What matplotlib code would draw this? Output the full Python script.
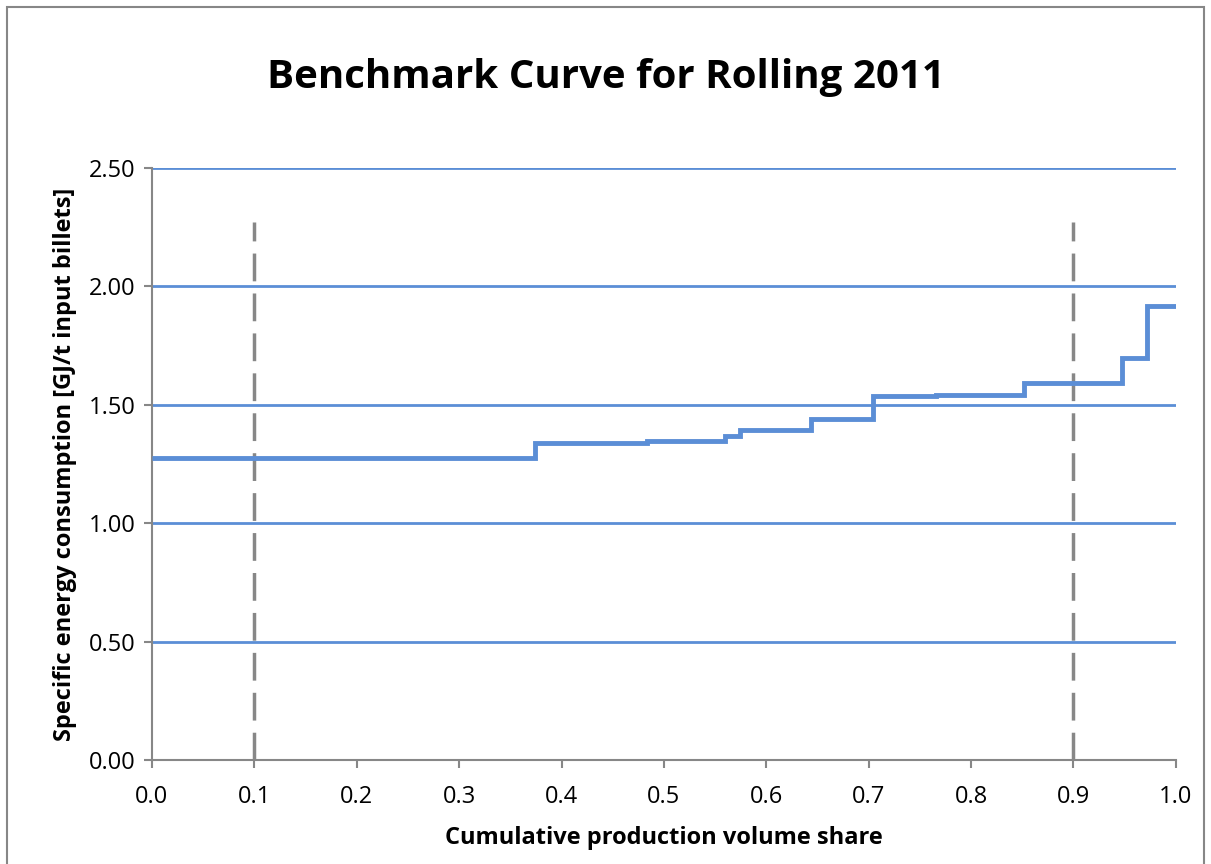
import matplotlib.pyplot as plt
from matplotlib.patches import Rectangle

# step edges (cumulative share) and specific energy of each plant
share_edges = [0.0, 0.374, 0.483, 0.560, 0.574, 0.644, 0.704, 0.766, 0.852, 0.947, 0.972, 1.0]
energy = [1.275, 1.339, 1.345, 1.368, 1.394, 1.440, 1.537, 1.542, 1.592, 1.698, 1.917]

# benchmark markers
markers_x = [0.1, 0.9]
marker_top = 2.27

y_ticks = [0.0, 0.5, 1.0, 1.5, 2.0, 2.5]
x_ticks = [0.0, 0.1, 0.2, 0.3, 0.4, 0.5, 0.6, 0.7, 0.8, 0.9, 1.0]

blue = '#5B8ED6'
grey = '#878787'

plt.rcParams['font.family'] = ['Open Sans', 'DejaVu Sans']

fig = plt.figure(figsize=(12.11, 8.64), dpi=100)
ax = fig.add_axes([0.1255, 0.1204, 0.971 - 0.1255, 0.8056 - 0.1204])

# horizontal gridlines
for yv in y_ticks[1:]:
    ax.axhline(yv, color=blue, lw=2, zorder=1)

for xv in markers_x:
    ax.plot([xv, xv], [0, marker_top], color=grey, lw=2.5, ls=(0, (8, 3.5)), zorder=2)

ax.stairs(energy, share_edges, baseline=None, color=blue, lw=3.5, zorder=3)

ax.set_xlim(0, 1.0)
ax.set_ylim(0, 2.5)
ax.set_xticks(x_ticks)
ax.set_xticklabels(['%.1f' % v for v in x_ticks])
ax.set_yticks(y_ticks)
ax.set_yticklabels(['%.2f' % v for v in y_ticks])
ax.tick_params(direction='out', length=6, width=1.5, color=grey, labelsize=17)
ax.tick_params(axis='x', pad=12)
ax.tick_params(axis='y', pad=6)

for side in ['top', 'right']:
    ax.spines[side].set_visible(False)
for side in ['left', 'bottom']:
    ax.spines[side].set_color(grey)
    ax.spines[side].set_linewidth(1.5)

ax.set_xlabel('Cumulative production volume share', fontsize=17, fontweight='bold', labelpad=12)
ax.set_ylabel('Specific energy consumption [GJ/t input billets]', fontsize=17, fontweight='bold', labelpad=8)

fig.text(0.5, 0.91, 'Benchmark Curve for Rolling 2011', ha='center', va='center',
         fontsize=29, fontweight='bold')

# chart border
fig.patches.append(Rectangle((0.006, -0.01), 0.988, 1.002, transform=fig.transFigure,
                             fill=False, edgecolor=grey, lw=1.5))

fig.savefig('out.png', dpi=100)
